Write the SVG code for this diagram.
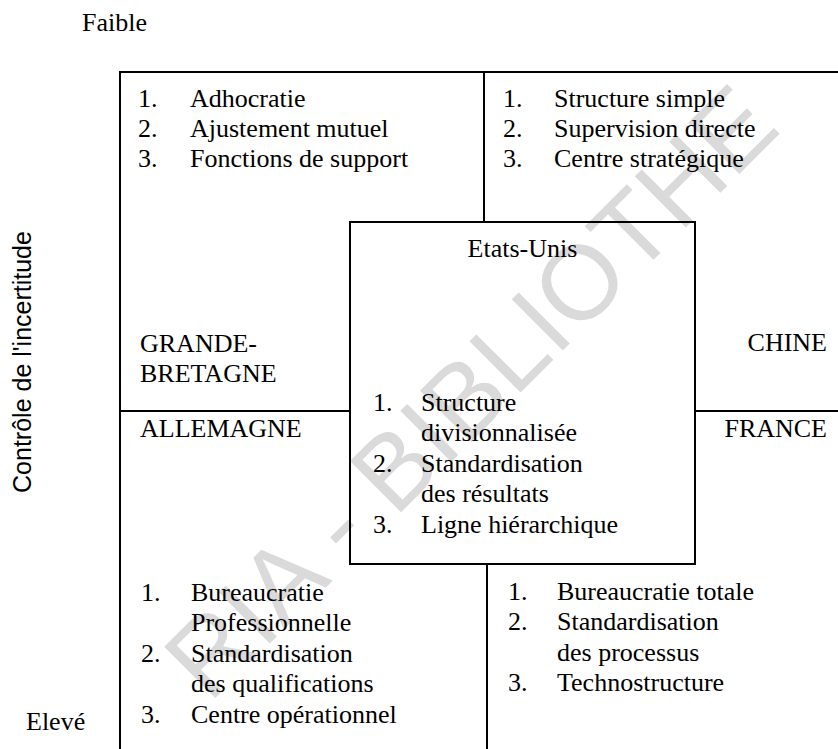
<svg xmlns="http://www.w3.org/2000/svg" width="838" height="749" viewBox="0 0 838 749">
<style>
  .t { font-family: "Liberation Serif", "Times New Roman", serif; font-size: 26px; fill: #000; }
  .s { font-family: "Liberation Sans", Arial, sans-serif; font-size: 25px; fill: #000; }
  .ln { stroke: #000; stroke-width: 2; fill: none; }
  .wm { font-family: "Liberation Sans", Arial, sans-serif; font-size: 105px; fill: #dadada; }
</style>
<rect width="838" height="749" fill="#fff"/>
<g id="watermark">
  <text class="wm" transform="translate(209.3 703.9) rotate(-45)">RIA - BIBLIOTHE</text>
</g>
<g id="frame">
  <path class="ln" d="M120 749 V72 H838"/>
  <line class="ln" x1="484" y1="72" x2="484" y2="222"/>
  <line class="ln" x1="120" y1="411" x2="350" y2="411"/>
  <line class="ln" x1="695" y1="411" x2="838" y2="411"/>
  <line class="ln" x1="487" y1="564" x2="487" y2="749"/>
</g>
<g id="axis-labels">
  <text class="t" x="82" y="31">Faible</text>
  <text class="t" x="26" y="730">Elevé</text>
  <text class="s" text-anchor="middle" transform="translate(31 362) rotate(-90)">Contrôle de l'incertitude</text>
</g>
<g id="grande-bretagne">
  <text class="t" x="138" y="107">1.</text><text class="t" x="190" y="107">Adhocratie</text>
  <text class="t" x="138" y="137">2.</text><text class="t" x="190" y="137">Ajustement mutuel</text>
  <text class="t" x="138" y="167">3.</text><text class="t" x="190" y="167">Fonctions de support</text>
  <text class="t" x="140" y="352">GRANDE-</text>
  <text class="t" x="140" y="382">BRETAGNE</text>
</g>
<g id="chine">
  <text class="t" x="503" y="107">1.</text><text class="t" x="554" y="107">Structure simple</text>
  <text class="t" x="503" y="137">2.</text><text class="t" x="554" y="137">Supervision directe</text>
  <text class="t" x="503" y="167">3.</text><text class="t" x="554" y="167">Centre stratégique</text>
  <text class="t" x="827" y="351" text-anchor="end">CHINE</text>
</g>
<g id="etats-unis">
  <rect class="ln" x="350" y="222" width="345" height="342"/>
  <text class="t" x="522.5" y="257" text-anchor="middle">Etats-Unis</text>
  <text class="t" x="373" y="411">1.</text><text class="t" x="421" y="411">Structure</text>
  <text class="t" x="421" y="441">divisionnalisée</text>
  <text class="t" x="373" y="472">2.</text><text class="t" x="421" y="472">Standardisation</text>
  <text class="t" x="421" y="502">des résultats</text>
  <text class="t" x="373" y="533">3.</text><text class="t" x="421" y="533">Ligne hiérarchique</text>
</g>
<g id="allemagne">
  <text class="t" x="140" y="437">ALLEMAGNE</text>
  <text class="t" x="141" y="601">1.</text><text class="t" x="191" y="601">Bureaucratie</text>
  <text class="t" x="191" y="631">Professionnelle</text>
  <text class="t" x="141" y="662">2.</text><text class="t" x="191" y="662">Standardisation</text>
  <text class="t" x="191" y="692">des qualifications</text>
  <text class="t" x="141" y="723">3.</text><text class="t" x="191" y="723">Centre opérationnel</text>
</g>
<g id="france">
  <text class="t" x="827" y="437" text-anchor="end">FRANCE</text>
  <text class="t" x="508" y="600">1.</text><text class="t" x="557" y="600">Bureaucratie totale</text>
  <text class="t" x="508" y="630">2.</text><text class="t" x="557" y="630">Standardisation</text>
  <text class="t" x="557" y="661">des processus</text>
  <text class="t" x="508" y="691">3.</text><text class="t" x="557" y="691">Technostructure</text>
</g>
</svg>
